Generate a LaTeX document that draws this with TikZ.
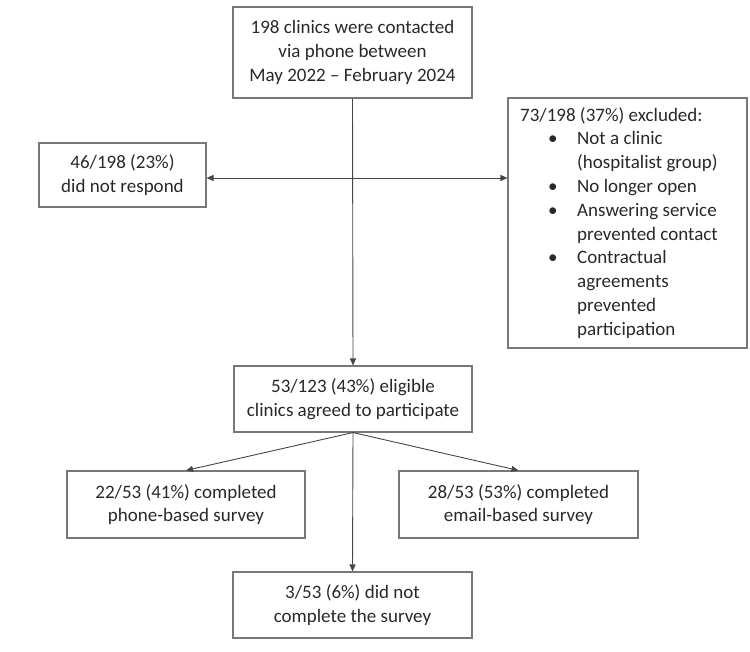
\documentclass[tikz,border=0pt]{standalone}
\usepackage{fontspec}
\setmainfont{Carlito}
\usetikzlibrary{arrows.meta}
\definecolor{boxline}{RGB}{120,120,120}
\definecolor{txt}{RGB}{40,40,40}
\definecolor{arr}{RGB}{70,70,70}
\tikzset{
  flowbox/.style={draw=boxline, line width=1.1pt, inner sep=0pt, align=center,
    text=txt, font=\fontsize{19}{23.8}\selectfont},
  conn/.style={draw=arr, line width=0.9pt, -{Triangle[length=7pt,width=6pt]}},
}
\begin{document}
\begin{tikzpicture}[x=1pt,y=-1pt]
\useasboundingbox (0,0) rectangle (750,651);
\node[flowbox, minimum width=239pt, minimum height=91pt] (top) at (352.5,52.5)
  {198 clinics were contacted\\via phone between\\May 2022 -- February 2024};
\node[flowbox, minimum width=167pt, minimum height=64pt] (left) at (122.5,175)
  {46/198 (23\%)\\did not respond};
\node[flowbox, minimum width=239pt, minimum height=250pt] (right) at (627.5,223) {};
\node[anchor=north west, align=left, inner sep=0pt, text=txt,
  font=\fontsize{19}{23.8}\selectfont] (rtext) at (520,107)
  {73/198 (37\%) excluded:\\
   \hspace*{28pt}\makebox[29pt][l]{\textbullet}Not a clinic\\
   \hspace*{57pt}(hospitalist group)\\
   \hspace*{28pt}\makebox[29pt][l]{\textbullet}No longer open\\
   \hspace*{28pt}\makebox[29pt][l]{\textbullet}Answering service\\
   \hspace*{57pt}prevented contact\\
   \hspace*{28pt}\makebox[29pt][l]{\textbullet}Contractual\\
   \hspace*{57pt}agreements\\
   \hspace*{57pt}prevented\\
   \hspace*{57pt}participation};
\node[flowbox, minimum width=238pt, minimum height=66pt] (mid) at (353,399)
  {53/123 (43\%) eligible\\clinics agreed to participate};
\node[flowbox, minimum width=238pt, minimum height=67pt] (phone) at (186,504.5)
  {22/53 (41\%) completed\\phone-based survey};
\node[flowbox, minimum width=239pt, minimum height=67pt] (email) at (518.5,504.5)
  {28/53 (53\%) completed\\email-based survey};
\node[flowbox, minimum width=239pt, minimum height=66pt] (bottom) at (352.5,605)
  {3/53 (6\%) did not\\complete the survey};
\coordinate (j) at (top.south |- 0,178);
\draw[conn] (top.south) -- (mid.north);
\draw[conn] (j) -- (j -| left.east);
\draw[conn] (j) -- (j -| right.west);
\draw[conn] (mid.south) -- (phone.north);
\draw[conn] (mid.south) -- (email.north);
\draw[conn] (mid.south) -- (bottom.north);
\end{tikzpicture}
\end{document}
